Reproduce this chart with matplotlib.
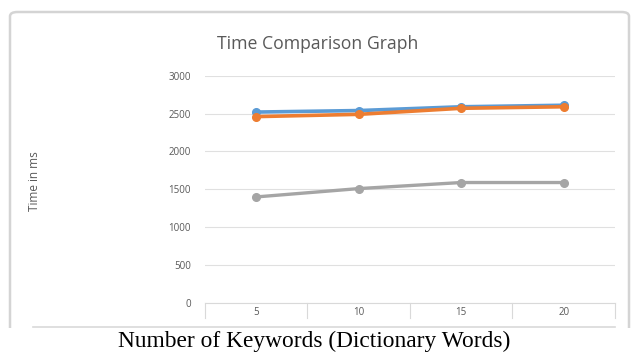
import matplotlib
matplotlib.use("Agg")
import matplotlib.pyplot as plt
from matplotlib.patches import FancyBboxPatch
from matplotlib.lines import Line2D

# Data
categories = ["5", "10", "15", "20"]
series_blue = [2520, 2540, 2590, 2610]
series_orange = [2460, 2490, 2570, 2590]
series_gray = [1400, 1510, 1590, 1590]
y_ticks = [0, 500, 1000, 1500, 2000, 2500, 3000]

W, H = 632, 358
fig = plt.figure(figsize=(W / 100, H / 100), dpi=100)
fig.patch.set_facecolor("white")

def fx(px):
    return px / W

def fy(py):
    return 1 - py / H

# Rounded chart frame (bottom edge runs off below the category axis)
frame = FancyBboxPatch((fx(10), fy(345)), fx(619), fy(12) - fy(345),
                       boxstyle="round,pad=0,rounding_size=0.012",
                       transform=fig.transFigure, facecolor="white",
                       edgecolor="#d4d4d4", linewidth=1.8, zorder=0)
fig.patches.append(frame)
# white strip that hides the frame bottom, then the separator line
fig.patches.append(plt.Rectangle((0, 0), 1, fy(328), transform=fig.transFigure,
                                 facecolor="white", edgecolor="none", zorder=1))
fig.lines.append(Line2D([fx(33), fx(615)], [fy(327), fy(327)],
                        transform=fig.transFigure, color="#d9d9d9", lw=1.2, zorder=2))

ax = fig.add_axes([fx(205), fy(303), fx(615) - fx(205), fy(75.7) - fy(303)])
ax.set_zorder(5)
ax.set_facecolor("none")
x = list(range(1, len(categories) + 1))

ax.plot(x, series_blue, color="#5B9BD5", lw=2.6, marker="o", ms=5.5, zorder=3)
ax.plot(x, series_orange, color="#ED7D31", lw=2.6, marker="o", ms=5.5, zorder=4)
ax.plot(x, series_gray, color="#A5A5A5", lw=2.4, marker="o", ms=5.5, zorder=3)

ax.set_xlim(0.5, len(categories) + 0.5)
ax.set_ylim(0, 3000)
ax.set_yticks(y_ticks)
ax.set_yticklabels([str(v) for v in y_ticks], fontsize=7, color="#595959",
                   family="Open Sans")
ax.tick_params(axis="y", length=0, pad=10)
ax.grid(axis="y", color="#e0e0e0", lw=0.8)
ax.set_axisbelow(True)
for s in ["top", "right", "left"]:
    ax.spines[s].set_visible(False)
ax.spines["bottom"].set_color("#d9d9d9")
ax.spines["bottom"].set_linewidth(0.8)

# category axis: labels centred, separators between categories
ax.set_xticks(x)
ax.set_xticklabels(categories, fontsize=7, color="#595959", family="Open Sans")
ax.tick_params(axis="x", length=0, pad=3)
for b in [i + 0.5 for i in range(0, len(categories) + 1)]:
    ax.plot([b, b], [0, -0.066], transform=ax.get_xaxis_transform(),
            color="#d9d9d9", lw=0.8, clip_on=False)

fig.text(fx(318), fy(44), "Time Comparison Graph", ha="center", va="center",
         fontsize=12.7, color="#595959", family="Open Sans", zorder=6)
fig.text(fx(35), fy(181), "Time in ms", ha="center", va="center", rotation=90,
         fontsize=8.5, color="#595959", family="Open Sans", zorder=6)
fig.text(fx(314), fy(341), "Number of Keywords (Dictionary Words)", ha="center",
         va="center", fontsize=16.8, color="black", family="Liberation Serif",
         zorder=6)

fig.savefig("out.png", dpi=100, facecolor="white")
